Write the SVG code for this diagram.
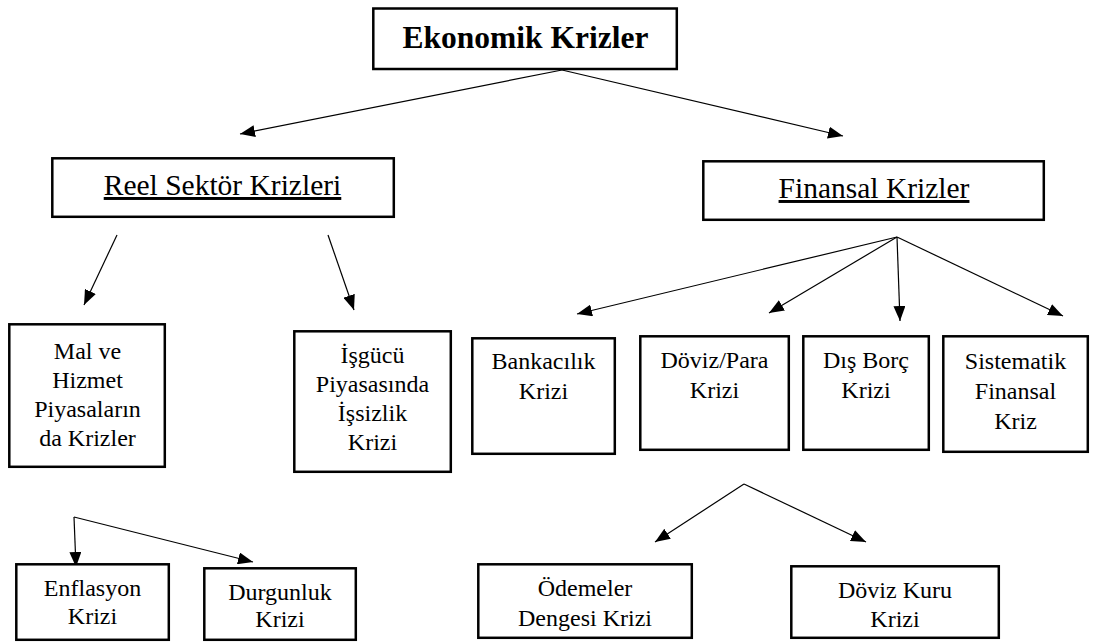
<svg xmlns="http://www.w3.org/2000/svg" width="1093" height="643" viewBox="0 0 1093 643">
<style>
.box{fill:#ffffff;stroke:#000000;stroke-width:2.5}
.c{stroke:#000000;stroke-width:1.2;fill:none;marker-end:url(#ah)}
</style>
<defs>
<marker id="ah" viewBox="0 0 15 12" refX="15" refY="6" markerWidth="15" markerHeight="12" markerUnits="userSpaceOnUse" orient="auto">
<path d="M0,0 L15,6 L0,12 z" fill="#000000"/>
</marker>
</defs>
<rect width="1093" height="643" fill="#ffffff"/>
<g id="connectors">
<line class="c" x1="562" y1="70" x2="240" y2="134"/>
<line class="c" x1="562" y1="70" x2="843" y2="136"/>
<line class="c" x1="117" y1="235" x2="84" y2="305"/>
<line class="c" x1="328" y1="235" x2="354" y2="310"/>
<line class="c" x1="897" y1="237" x2="577" y2="314"/>
<line class="c" x1="897" y1="237" x2="769" y2="313"/>
<line class="c" x1="897" y1="237" x2="900" y2="321"/>
<line class="c" x1="897" y1="237" x2="1063" y2="316"/>
<line class="c" x1="74" y1="517" x2="76" y2="567"/>
<line class="c" x1="74" y1="517" x2="253" y2="562"/>
<line class="c" x1="744" y1="484" x2="655" y2="542"/>
<line class="c" x1="744" y1="484" x2="866" y2="542"/>
</g>
<g id="nodes" font-family="Liberation Serif" font-size="24" text-anchor="middle" fill="#000000">
<g id="ekonomik">
<rect class="box" x="373.3" y="8.5" width="303.5" height="60.5"/>
<text x="525.5" y="47.5" font-size="31.5" font-weight="bold">Ekonomik Krizler</text>
</g>
<g id="reel">
<rect class="box" x="52.3" y="158.3" width="341.5" height="58.5"/>
<text x="222.5" y="195" font-size="29.5" text-decoration="underline">Reel Sekt&#246;r Krizleri</text>
</g>
<g id="finansal">
<rect class="box" x="703.3" y="161.3" width="340.5" height="58.5"/>
<text x="874" y="198" font-size="29.5" text-decoration="underline">Finansal Krizler</text>
</g>
<g id="malhizmet">
<rect class="box" x="9.3" y="324.3" width="155.5" height="142.5"/>
<text x="87.5" y="359">Mal ve</text>
<text x="87.5" y="388">Hizmet</text>
<text x="87.5" y="417">Piyasalar&#305;n</text>
<text x="87.5" y="446">da Krizler</text>
</g>
<g id="isgucu">
<rect class="box" x="294.3" y="331.3" width="156.5" height="140.5"/>
<text x="372.5" y="363">&#304;&#351;g&#252;c&#252;</text>
<text x="372.5" y="392">Piyasas&#305;nda</text>
<text x="372.5" y="421">&#304;&#351;sizlik</text>
<text x="372.5" y="450">Krizi</text>
</g>
<g id="bankacilik">
<rect class="box" x="472.3" y="338.3" width="142.5" height="115.5"/>
<text x="543.5" y="369">Bankac&#305;l&#305;k</text>
<text x="543.5" y="399">Krizi</text>
</g>
<g id="dovizpara">
<rect class="box" x="640.3" y="336.3" width="148.5" height="113.5"/>
<text x="714.5" y="368">D&#246;viz/Para</text>
<text x="714.5" y="398">Krizi</text>
</g>
<g id="disborc">
<rect class="box" x="803.3" y="336.3" width="125.5" height="113.5"/>
<text x="866" y="368">D&#305;&#351; Bor&#231;</text>
<text x="866" y="398">Krizi</text>
</g>
<g id="sistematik">
<rect class="box" x="943.3" y="336.3" width="144.5" height="115.5"/>
<text x="1015.5" y="369">Sistematik</text>
<text x="1015.5" y="399">Finansal</text>
<text x="1015.5" y="429">Kriz</text>
</g>
<g id="enflasyon">
<rect class="box" x="16.3" y="564.3" width="152.5" height="75.5"/>
<text x="92.5" y="596">Enflasyon</text>
<text x="92.5" y="624">Krizi</text>
</g>
<g id="durgunluk">
<rect class="box" x="204.3" y="568.3" width="151.5" height="71.5"/>
<text x="280" y="600">Durgunluk</text>
<text x="280" y="627">Krizi</text>
</g>
<g id="odemeler">
<rect class="box" x="478.3" y="564.3" width="213.5" height="73.5"/>
<text x="585" y="596">&#214;demeler</text>
<text x="585" y="626">Dengesi Krizi</text>
</g>
<g id="dovizkuru">
<rect class="box" x="791.3" y="566.3" width="207.5" height="71.5"/>
<text x="895" y="598">D&#246;viz Kuru</text>
<text x="895" y="627">Krizi</text>
</g>
</g>
</svg>
